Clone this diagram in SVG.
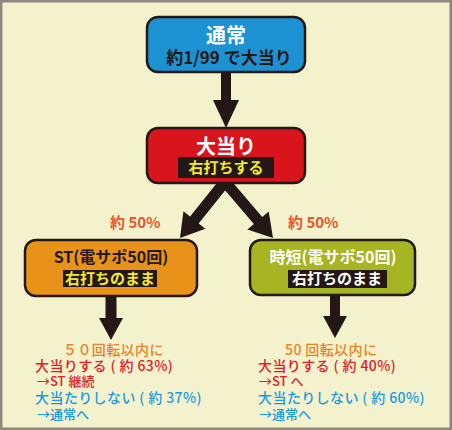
<svg xmlns="http://www.w3.org/2000/svg" width="452" height="430" viewBox="0 0 452 430">
<style>
text{font-family:"Noto Sans CJK JP","Noto Sans",sans-serif;text-anchor:middle;font-weight:700}
.box{stroke:#231815;stroke-width:2.5}
.lbl{fill:#231815}
.arrow{fill:#231815}
.w{fill:#fff}
.y{fill:#f5e92a}
.d{fill:#231815}
.pct{fill:#e8562a;font-size:15px;text-anchor:start}
.res{font-size:14px;text-anchor:start;font-weight:500;letter-spacing:0.4px}
.small{font-size:13px;text-anchor:start;font-weight:500}
.or{fill:#e8832a}
.rd{fill:#e0202a}
.bl{fill:#1a9ae0}
</style>
<rect x="1.25" y="1.25" width="449.5" height="427.5" fill="#f4f2cc" stroke="#8e8780" stroke-width="2.5"/>
<g id="connectors">
<polygon class="arrow" transform="translate(226,128) rotate(90)" points="-56,-5 -28,-5 -28,-13 0,0 -28,13 -28,5 -56,5"/>
<polygon class="arrow" transform="translate(180,238) rotate(128.7)" points="-72,-5.5 -23,-5.5 -23,-14 0,0 -23,14 -23,5.5 -72,5.5"/>
<polygon class="arrow" transform="translate(273,238) rotate(49.5)" points="-73,-5.5 -23,-5.5 -23,-14 0,0 -23,14 -23,5.5 -73,5.5"/>
<polygon class="arrow" transform="translate(111,340) rotate(90)" points="-45,-5.5 -22,-5.5 -22,-12 0,0 -22,12 -22,5.5 -45,5.5"/>
<polygon class="arrow" transform="translate(335,338) rotate(90)" points="-43,-5 -22,-5 -22,-12 0,0 -22,12 -22,5 -43,5"/>
</g>
<g id="node-normal">
<rect class="box" x="147" y="17" width="158" height="55" rx="11" fill="#1c92d2"/>
<text class="w" x="226" y="43" font-size="20">通常</text>
<text class="d" x="229" y="64" font-size="17">約1/99 で大当り</text>
</g>
<g id="node-jackpot">
<rect class="box" x="147" y="128" width="158" height="55" rx="11" fill="#d8141c"/>
<text class="w" x="226" y="154" font-size="20">大当り</text>
<rect class="lbl" x="178" y="157" width="96" height="21"/>
<text class="y" x="226" y="173" font-size="15">右打ちする</text>
</g>
<text class="pct" x="110" y="228">約 50%</text>
<text class="pct" x="288" y="228">約 50%</text>
<g id="node-st">
<rect class="box" x="25" y="240" width="172" height="56" rx="11" fill="#e8921a"/>
<text class="d" x="111" y="263" font-size="16">ST(電サポ50回)</text>
<rect class="lbl" x="63" y="270" width="94" height="17"/>
<text class="y" x="110" y="284" font-size="15">右打ちのまま</text>
</g>
<g id="node-jitan">
<rect class="box" x="250" y="240" width="165" height="55" rx="11" fill="#a6b521"/>
<text class="w" x="333" y="263" font-size="16">時短(電サポ50回)</text>
<rect class="lbl" x="288" y="270" width="99" height="18"/>
<text class="w" x="337" y="284" font-size="15">右打ちのまま</text>
</g>
<g id="result-st">
<text class="res or" x="63" y="355" font-size="15">５０回転以内に</text>
<text class="res rd" x="35" y="371">大当りする ( 約 63%)</text>
<text class="small rd" x="37" y="386">→ST 継続</text>
<text class="res bl" x="35" y="403">大当たりしない ( 約 37%)</text>
<text class="small bl" x="37" y="419">→通常へ</text>
</g>
<g id="result-jitan">
<text class="res or" x="285" y="355" font-size="15">50 回転以内に</text>
<text class="res rd" x="258" y="371">大当りする ( 約 40%)</text>
<text class="small rd" x="259" y="386">→ST へ</text>
<text class="res bl" x="258" y="403">大当たりしない ( 約 60%)</text>
<text class="small bl" x="259" y="419">→通常へ</text>
</g>
</svg>
